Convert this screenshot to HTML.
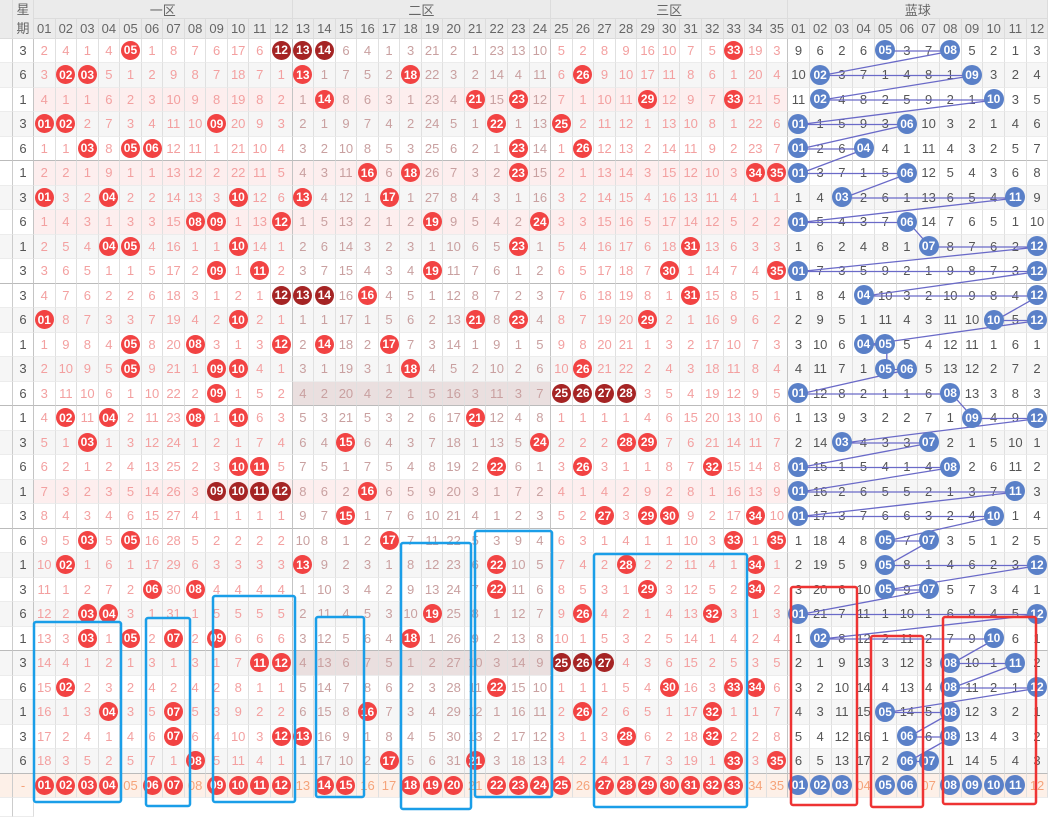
<!DOCTYPE html>
<html><head><meta charset="utf-8"><style>
html,body{margin:0;padding:0;width:1055px;height:817px;overflow:hidden;background:#fff}
.g{display:grid;position:absolute;left:0;top:0;width:1055px;height:817px;grid-template-columns:13px 21px repeat(35,21.56px) repeat(12,21.7px);grid-template-rows:19.4px 19.35px repeat(31,24.5px) 1fr;font:13px "Liberation Sans","Noto Sans CJK SC",sans-serif}
.g i{font-style:normal;display:flex;align-items:center;justify-content:center;border-right:1px solid #e0e0e0;border-bottom:1px solid #ececec;color:#f3a0a0;background:#fff;overflow:visible;min-width:0}
.hd{background:#ebebeb!important;color:#666!important;border-color:#dcdcdc!important}
.r{display:contents}
.r i:nth-child(2){color:#555}
.r i:nth-child(n+15):nth-child(-n+26){color:#c9a0a0}
.r i:nth-child(n+38){color:#555}
.r i:nth-child(1){border-right:1px solid #ccc}
.r i:nth-child(2),.r i:nth-child(14),.r i:nth-child(26),.r i:nth-child(37){border-right:1px solid #c4c4c4}
.a i{background:#f6f6f6}
.p i:nth-child(n+3):nth-child(-n+37){background:#fdeeee}
.h i:nth-child(n+15):nth-child(-n+26){background:#eadfdf}
.e i{border-bottom:1px solid #bbb}
.z i{background:#fdf0e8;color:#f5a37a!important}
.g b{width:19px;height:19px;border-radius:50%;background:#f24343;color:#fff;font-weight:bold;display:flex;align-items:center;justify-content:center;font-size:12px;position:relative;z-index:2;flex:none}
.g b.d{background:#a52424}
.g b.u{background:#5a80c8;width:20px;height:20px}
svg{position:absolute;left:0;top:0}
</style></head><body>
<div class="g">
<i class="hd" style="grid-row:span 2"></i><i class="hd" style="grid-row:span 2;line-height:19px;text-align:center">星<br>期</i><i class="hd" style="grid-column:span 12">一区</i><i class="hd" style="grid-column:span 12">二区</i><i class="hd" style="grid-column:span 11">三区</i><i class="hd" style="grid-column:span 12">蓝球</i>
<i class="hd">01</i><i class="hd">02</i><i class="hd">03</i><i class="hd">04</i><i class="hd">05</i><i class="hd">06</i><i class="hd">07</i><i class="hd">08</i><i class="hd">09</i><i class="hd">10</i><i class="hd">11</i><i class="hd">12</i><i class="hd">13</i><i class="hd">14</i><i class="hd">15</i><i class="hd">16</i><i class="hd">17</i><i class="hd">18</i><i class="hd">19</i><i class="hd">20</i><i class="hd">21</i><i class="hd">22</i><i class="hd">23</i><i class="hd">24</i><i class="hd">25</i><i class="hd">26</i><i class="hd">27</i><i class="hd">28</i><i class="hd">29</i><i class="hd">30</i><i class="hd">31</i><i class="hd">32</i><i class="hd">33</i><i class="hd">34</i><i class="hd">35</i><i class="hd">01</i><i class="hd">02</i><i class="hd">03</i><i class="hd">04</i><i class="hd">05</i><i class="hd">06</i><i class="hd">07</i><i class="hd">08</i><i class="hd">09</i><i class="hd">10</i><i class="hd">11</i><i class="hd">12</i>

<div class="r"><i></i><i>3</i><i>2</i><i>4</i><i>1</i><i>4</i><i><b>05</b></i><i>1</i><i>8</i><i>7</i><i>6</i><i>17</i><i>6</i><i><b class="d">12</b></i><i><b class="d">13</b></i><i><b class="d">14</b></i><i>6</i><i>4</i><i>1</i><i>3</i><i>21</i><i>2</i><i>1</i><i>23</i><i>13</i><i>10</i><i>5</i><i>2</i><i>8</i><i>9</i><i>16</i><i>10</i><i>7</i><i>5</i><i><b>33</b></i><i>19</i><i>3</i><i>9</i><i>6</i><i>2</i><i>6</i><i><b class="u">05</b></i><i>3</i><i>7</i><i><b class="u">08</b></i><i>5</i><i>2</i><i>1</i><i>3</i></div>
<div class="r a"><i></i><i>6</i><i>3</i><i><b>02</b></i><i><b>03</b></i><i>5</i><i>1</i><i>2</i><i>9</i><i>8</i><i>7</i><i>18</i><i>7</i><i>1</i><i><b>13</b></i><i>1</i><i>7</i><i>5</i><i>2</i><i><b>18</b></i><i>22</i><i>3</i><i>2</i><i>14</i><i>4</i><i>11</i><i>6</i><i><b>26</b></i><i>9</i><i>10</i><i>17</i><i>11</i><i>8</i><i>6</i><i>1</i><i>20</i><i>4</i><i>10</i><i><b class="u">02</b></i><i>3</i><i>7</i><i>1</i><i>4</i><i>8</i><i>1</i><i><b class="u">09</b></i><i>3</i><i>2</i><i>4</i></div>
<div class="r p"><i></i><i>1</i><i>4</i><i>1</i><i>1</i><i>6</i><i>2</i><i>3</i><i>10</i><i>9</i><i>8</i><i>19</i><i>8</i><i>2</i><i>1</i><i><b>14</b></i><i>8</i><i>6</i><i>3</i><i>1</i><i>23</i><i>4</i><i><b>21</b></i><i>15</i><i><b>23</b></i><i>12</i><i>7</i><i>1</i><i>10</i><i>11</i><i><b>29</b></i><i>12</i><i>9</i><i>7</i><i><b>33</b></i><i>21</i><i>5</i><i>11</i><i><b class="u">02</b></i><i>4</i><i>8</i><i>2</i><i>5</i><i>9</i><i>2</i><i>1</i><i><b class="u">10</b></i><i>3</i><i>5</i></div>
<div class="r a"><i></i><i>3</i><i><b>01</b></i><i><b>02</b></i><i>2</i><i>7</i><i>3</i><i>4</i><i>11</i><i>10</i><i><b>09</b></i><i>20</i><i>9</i><i>3</i><i>2</i><i>1</i><i>9</i><i>7</i><i>4</i><i>2</i><i>24</i><i>5</i><i>1</i><i><b>22</b></i><i>1</i><i>13</i><i><b>25</b></i><i>2</i><i>11</i><i>12</i><i>1</i><i>13</i><i>10</i><i>8</i><i>1</i><i>22</i><i>6</i><i><b class="u">01</b></i><i>1</i><i>5</i><i>9</i><i>3</i><i><b class="u">06</b></i><i>10</i><i>3</i><i>2</i><i>1</i><i>4</i><i>6</i></div>
<div class="r e"><i></i><i>6</i><i>1</i><i>1</i><i><b>03</b></i><i>8</i><i><b>05</b></i><i><b>06</b></i><i>12</i><i>11</i><i>1</i><i>21</i><i>10</i><i>4</i><i>3</i><i>2</i><i>10</i><i>8</i><i>5</i><i>3</i><i>25</i><i>6</i><i>2</i><i>1</i><i><b>23</b></i><i>14</i><i>1</i><i><b>26</b></i><i>12</i><i>13</i><i>2</i><i>14</i><i>11</i><i>9</i><i>2</i><i>23</i><i>7</i><i><b class="u">01</b></i><i>2</i><i>6</i><i><b class="u">04</b></i><i>4</i><i>1</i><i>11</i><i>4</i><i>3</i><i>2</i><i>5</i><i>7</i></div>

<div class="r p"><i></i><i>1</i><i>2</i><i>2</i><i>1</i><i>9</i><i>1</i><i>1</i><i>13</i><i>12</i><i>2</i><i>22</i><i>11</i><i>5</i><i>4</i><i>3</i><i>11</i><i><b>16</b></i><i>6</i><i><b>18</b></i><i>26</i><i>7</i><i>3</i><i>2</i><i><b>23</b></i><i>15</i><i>2</i><i>1</i><i>13</i><i>14</i><i>3</i><i>15</i><i>12</i><i>10</i><i>3</i><i><b>34</b></i><i><b>35</b></i><i><b class="u">01</b></i><i>3</i><i>7</i><i>1</i><i>5</i><i><b class="u">06</b></i><i>12</i><i>5</i><i>4</i><i>3</i><i>6</i><i>8</i></div>
<div class="r a"><i></i><i>3</i><i><b>01</b></i><i>3</i><i>2</i><i><b>04</b></i><i>2</i><i>2</i><i>14</i><i>13</i><i>3</i><i><b>10</b></i><i>12</i><i>6</i><i><b>13</b></i><i>4</i><i>12</i><i>1</i><i><b>17</b></i><i>1</i><i>27</i><i>8</i><i>4</i><i>3</i><i>1</i><i>16</i><i>3</i><i>2</i><i>14</i><i>15</i><i>4</i><i>16</i><i>13</i><i>11</i><i>4</i><i>1</i><i>1</i><i>1</i><i>4</i><i><b class="u">03</b></i><i>2</i><i>6</i><i>1</i><i>13</i><i>6</i><i>5</i><i>4</i><i><b class="u">11</b></i><i>9</i></div>
<div class="r p"><i></i><i>6</i><i>1</i><i>4</i><i>3</i><i>1</i><i>3</i><i>3</i><i>15</i><i><b>08</b></i><i><b>09</b></i><i>1</i><i>13</i><i><b>12</b></i><i>1</i><i>5</i><i>13</i><i>2</i><i>1</i><i>2</i><i><b>19</b></i><i>9</i><i>5</i><i>4</i><i>2</i><i><b>24</b></i><i>3</i><i>3</i><i>15</i><i>16</i><i>5</i><i>17</i><i>14</i><i>12</i><i>5</i><i>2</i><i>2</i><i><b class="u">01</b></i><i>5</i><i>4</i><i>3</i><i>7</i><i><b class="u">06</b></i><i>14</i><i>7</i><i>6</i><i>5</i><i>1</i><i>10</i></div>
<div class="r a"><i></i><i>1</i><i>2</i><i>5</i><i>4</i><i><b>04</b></i><i><b>05</b></i><i>4</i><i>16</i><i>1</i><i>1</i><i><b>10</b></i><i>14</i><i>1</i><i>2</i><i>6</i><i>14</i><i>3</i><i>2</i><i>3</i><i>1</i><i>10</i><i>6</i><i>5</i><i><b>23</b></i><i>1</i><i>5</i><i>4</i><i>16</i><i>17</i><i>6</i><i>18</i><i><b>31</b></i><i>13</i><i>6</i><i>3</i><i>3</i><i>1</i><i>6</i><i>2</i><i>4</i><i>8</i><i>1</i><i><b class="u">07</b></i><i>8</i><i>7</i><i>6</i><i>2</i><i><b class="u">12</b></i></div>
<div class="r e"><i></i><i>3</i><i>3</i><i>6</i><i>5</i><i>1</i><i>1</i><i>5</i><i>17</i><i>2</i><i><b>09</b></i><i>1</i><i><b>11</b></i><i>2</i><i>3</i><i>7</i><i>15</i><i>4</i><i>3</i><i>4</i><i><b>19</b></i><i>11</i><i>7</i><i>6</i><i>1</i><i>2</i><i>6</i><i>5</i><i>17</i><i>18</i><i>7</i><i><b>30</b></i><i>1</i><i>14</i><i>7</i><i>4</i><i><b>35</b></i><i><b class="u">01</b></i><i>7</i><i>3</i><i>5</i><i>9</i><i>2</i><i>1</i><i>9</i><i>8</i><i>7</i><i>3</i><i><b class="u">12</b></i></div>

<div class="r"><i></i><i>3</i><i>4</i><i>7</i><i>6</i><i>2</i><i>2</i><i>6</i><i>18</i><i>3</i><i>1</i><i>2</i><i>1</i><i><b class="d">12</b></i><i><b class="d">13</b></i><i><b class="d">14</b></i><i>16</i><i><b>16</b></i><i>4</i><i>5</i><i>1</i><i>12</i><i>8</i><i>7</i><i>2</i><i>3</i><i>7</i><i>6</i><i>18</i><i>19</i><i>8</i><i>1</i><i><b>31</b></i><i>15</i><i>8</i><i>5</i><i>1</i><i>1</i><i>8</i><i>4</i><i><b class="u">04</b></i><i>10</i><i>3</i><i>2</i><i>10</i><i>9</i><i>8</i><i>4</i><i><b class="u">12</b></i></div>
<div class="r a"><i></i><i>6</i><i><b>01</b></i><i>8</i><i>7</i><i>3</i><i>3</i><i>7</i><i>19</i><i>4</i><i>2</i><i><b>10</b></i><i>2</i><i>1</i><i>1</i><i>1</i><i>17</i><i>1</i><i>5</i><i>6</i><i>2</i><i>13</i><i><b>21</b></i><i>8</i><i><b>23</b></i><i>4</i><i>8</i><i>7</i><i>19</i><i>20</i><i><b>29</b></i><i>2</i><i>1</i><i>16</i><i>9</i><i>6</i><i>2</i><i>2</i><i>9</i><i>5</i><i>1</i><i>11</i><i>4</i><i>3</i><i>11</i><i>10</i><i><b class="u">10</b></i><i>5</i><i><b class="u">12</b></i></div>
<div class="r"><i></i><i>1</i><i>1</i><i>9</i><i>8</i><i>4</i><i><b>05</b></i><i>8</i><i>20</i><i><b>08</b></i><i>3</i><i>1</i><i>3</i><i><b>12</b></i><i>2</i><i><b>14</b></i><i>18</i><i>2</i><i><b>17</b></i><i>7</i><i>3</i><i>14</i><i>1</i><i>9</i><i>1</i><i>5</i><i>9</i><i>8</i><i>20</i><i>21</i><i>1</i><i>3</i><i>2</i><i>17</i><i>10</i><i>7</i><i>3</i><i>3</i><i>10</i><i>6</i><i><b class="u">04</b></i><i><b class="u">05</b></i><i>5</i><i>4</i><i>12</i><i>11</i><i>1</i><i>6</i><i>1</i></div>
<div class="r a"><i></i><i>3</i><i>2</i><i>10</i><i>9</i><i>5</i><i><b>05</b></i><i>9</i><i>21</i><i>1</i><i><b>09</b></i><i><b>10</b></i><i>4</i><i>1</i><i>3</i><i>1</i><i>19</i><i>3</i><i>1</i><i><b>18</b></i><i>4</i><i>5</i><i>2</i><i>10</i><i>2</i><i>6</i><i>10</i><i><b>26</b></i><i>21</i><i>22</i><i>2</i><i>4</i><i>3</i><i>18</i><i>11</i><i>8</i><i>4</i><i>4</i><i>11</i><i>7</i><i>1</i><i><b class="u">05</b></i><i><b class="u">06</b></i><i>5</i><i>13</i><i>12</i><i>2</i><i>7</i><i>2</i></div>
<div class="r e h"><i></i><i>6</i><i>3</i><i>11</i><i>10</i><i>6</i><i>1</i><i>10</i><i>22</i><i>2</i><i><b>09</b></i><i>1</i><i>5</i><i>2</i><i>4</i><i>2</i><i>20</i><i>4</i><i>2</i><i>1</i><i>5</i><i>16</i><i>3</i><i>11</i><i>3</i><i>7</i><i><b class="d">25</b></i><i><b class="d">26</b></i><i><b class="d">27</b></i><i><b class="d">28</b></i><i>3</i><i>5</i><i>4</i><i>19</i><i>12</i><i>9</i><i>5</i><i><b class="u">01</b></i><i>12</i><i>8</i><i>2</i><i>1</i><i>1</i><i>6</i><i><b class="u">08</b></i><i>13</i><i>3</i><i>8</i><i>3</i></div>

<div class="r"><i></i><i>1</i><i>4</i><i><b>02</b></i><i>11</i><i><b>04</b></i><i>2</i><i>11</i><i>23</i><i><b>08</b></i><i>1</i><i><b>10</b></i><i>6</i><i>3</i><i>5</i><i>3</i><i>21</i><i>5</i><i>3</i><i>2</i><i>6</i><i>17</i><i><b>21</b></i><i>12</i><i>4</i><i>8</i><i>1</i><i>1</i><i>1</i><i>1</i><i>4</i><i>6</i><i>15</i><i>20</i><i>13</i><i>10</i><i>6</i><i>1</i><i>13</i><i>9</i><i>3</i><i>2</i><i>2</i><i>7</i><i>1</i><i><b class="u">09</b></i><i>4</i><i>9</i><i><b class="u">12</b></i></div>
<div class="r a"><i></i><i>3</i><i>5</i><i>1</i><i><b>03</b></i><i>1</i><i>3</i><i>12</i><i>24</i><i>1</i><i>2</i><i>1</i><i>7</i><i>4</i><i>6</i><i>4</i><i><b>15</b></i><i>6</i><i>4</i><i>3</i><i>7</i><i>18</i><i>1</i><i>13</i><i>5</i><i><b>24</b></i><i>2</i><i>2</i><i>2</i><i><b>28</b></i><i><b>29</b></i><i>7</i><i>6</i><i>21</i><i>14</i><i>11</i><i>7</i><i>2</i><i>14</i><i><b class="u">03</b></i><i>4</i><i>3</i><i>3</i><i><b class="u">07</b></i><i>2</i><i>1</i><i>5</i><i>10</i><i>1</i></div>
<div class="r"><i></i><i>6</i><i>6</i><i>2</i><i>1</i><i>2</i><i>4</i><i>13</i><i>25</i><i>2</i><i>3</i><i><b>10</b></i><i><b>11</b></i><i>5</i><i>7</i><i>5</i><i>1</i><i>7</i><i>5</i><i>4</i><i>8</i><i>19</i><i>2</i><i><b>22</b></i><i>6</i><i>1</i><i>3</i><i><b>26</b></i><i>3</i><i>1</i><i>1</i><i>8</i><i>7</i><i><b>32</b></i><i>15</i><i>14</i><i>8</i><i><b class="u">01</b></i><i>15</i><i>1</i><i>5</i><i>4</i><i>1</i><i>4</i><i><b class="u">08</b></i><i>2</i><i>6</i><i>11</i><i>2</i></div>
<div class="r a p"><i></i><i>1</i><i>7</i><i>3</i><i>2</i><i>3</i><i>5</i><i>14</i><i>26</i><i>3</i><i><b class="d">09</b></i><i><b class="d">10</b></i><i><b class="d">11</b></i><i><b class="d">12</b></i><i>8</i><i>6</i><i>2</i><i><b>16</b></i><i>6</i><i>5</i><i>9</i><i>20</i><i>3</i><i>1</i><i>7</i><i>2</i><i>4</i><i>1</i><i>4</i><i>2</i><i>9</i><i>2</i><i>8</i><i>1</i><i>16</i><i>13</i><i>9</i><i><b class="u">01</b></i><i>16</i><i>2</i><i>6</i><i>5</i><i>5</i><i>2</i><i>1</i><i>3</i><i>7</i><i><b class="u">11</b></i><i>3</i></div>
<div class="r e"><i></i><i>3</i><i>8</i><i>4</i><i>3</i><i>4</i><i>6</i><i>15</i><i>27</i><i>4</i><i>1</i><i>1</i><i>1</i><i>1</i><i>9</i><i>7</i><i><b>15</b></i><i>1</i><i>7</i><i>6</i><i>10</i><i>21</i><i>4</i><i>1</i><i>2</i><i>3</i><i>5</i><i>2</i><i><b>27</b></i><i>3</i><i><b>29</b></i><i><b>30</b></i><i>9</i><i>2</i><i>17</i><i><b>34</b></i><i>10</i><i><b class="u">01</b></i><i>17</i><i>3</i><i>7</i><i>6</i><i>6</i><i>3</i><i>2</i><i>4</i><i><b class="u">10</b></i><i>1</i><i>4</i></div>

<div class="r"><i></i><i>6</i><i>9</i><i>5</i><i><b>03</b></i><i>5</i><i><b>05</b></i><i>16</i><i>28</i><i>5</i><i>2</i><i>2</i><i>2</i><i>2</i><i>10</i><i>8</i><i>1</i><i>2</i><i><b>17</b></i><i>7</i><i>11</i><i>22</i><i>5</i><i>3</i><i>9</i><i>4</i><i>6</i><i>3</i><i>1</i><i>4</i><i>1</i><i>1</i><i>10</i><i>3</i><i><b>33</b></i><i>1</i><i><b>35</b></i><i>1</i><i>18</i><i>4</i><i>8</i><i><b class="u">05</b></i><i>7</i><i><b class="u">07</b></i><i>3</i><i>5</i><i>1</i><i>2</i><i>5</i></div>
<div class="r a"><i></i><i>1</i><i>10</i><i><b>02</b></i><i>1</i><i>6</i><i>1</i><i>17</i><i>29</i><i>6</i><i>3</i><i>3</i><i>3</i><i>3</i><i><b>13</b></i><i>9</i><i>2</i><i>3</i><i>1</i><i>8</i><i>12</i><i>23</i><i>6</i><i><b>22</b></i><i>10</i><i>5</i><i>7</i><i>4</i><i>2</i><i><b>28</b></i><i>2</i><i>2</i><i>11</i><i>4</i><i>1</i><i><b>34</b></i><i>1</i><i>2</i><i>19</i><i>5</i><i>9</i><i><b class="u">05</b></i><i>8</i><i>1</i><i>4</i><i>6</i><i>2</i><i>3</i><i><b class="u">12</b></i></div>
<div class="r"><i></i><i>3</i><i>11</i><i>1</i><i>2</i><i>7</i><i>2</i><i><b>06</b></i><i>30</i><i><b>08</b></i><i>4</i><i>4</i><i>4</i><i>4</i><i>1</i><i>10</i><i>3</i><i>4</i><i>2</i><i>9</i><i>13</i><i>24</i><i>7</i><i><b>22</b></i><i>11</i><i>6</i><i>8</i><i>5</i><i>3</i><i>1</i><i><b>29</b></i><i>3</i><i>12</i><i>5</i><i>2</i><i><b>34</b></i><i>2</i><i>3</i><i>20</i><i>6</i><i>10</i><i><b class="u">05</b></i><i>9</i><i><b class="u">07</b></i><i>5</i><i>7</i><i>3</i><i>4</i><i>1</i></div>
<div class="r a"><i></i><i>6</i><i>12</i><i>2</i><i><b>03</b></i><i><b>04</b></i><i>3</i><i>1</i><i>31</i><i>1</i><i>5</i><i>5</i><i>5</i><i>5</i><i>2</i><i>11</i><i>4</i><i>5</i><i>3</i><i>10</i><i><b>19</b></i><i>25</i><i>8</i><i>1</i><i>12</i><i>7</i><i>9</i><i><b>26</b></i><i>4</i><i>2</i><i>1</i><i>4</i><i>13</i><i><b>32</b></i><i>3</i><i>1</i><i>3</i><i><b class="u">01</b></i><i>21</i><i>7</i><i>11</i><i>1</i><i>10</i><i>1</i><i>6</i><i>8</i><i>4</i><i>5</i><i><b class="u">12</b></i></div>
<div class="r e"><i></i><i>1</i><i>13</i><i>3</i><i><b>03</b></i><i>1</i><i><b>05</b></i><i>2</i><i><b>07</b></i><i>2</i><i><b>09</b></i><i>6</i><i>6</i><i>6</i><i>3</i><i>12</i><i>5</i><i>6</i><i>4</i><i><b>18</b></i><i>1</i><i>26</i><i>9</i><i>2</i><i>13</i><i>8</i><i>10</i><i>1</i><i>5</i><i>3</i><i>2</i><i>5</i><i>14</i><i>1</i><i>4</i><i>2</i><i>4</i><i>1</i><i><b class="u">02</b></i><i>8</i><i>12</i><i>2</i><i>11</i><i>2</i><i>7</i><i>9</i><i><b class="u">10</b></i><i>6</i><i>1</i></div>

<div class="r a h"><i></i><i>3</i><i>14</i><i>4</i><i>1</i><i>2</i><i>1</i><i>3</i><i>1</i><i>3</i><i>1</i><i>7</i><i><b>11</b></i><i><b>12</b></i><i>4</i><i>13</i><i>6</i><i>7</i><i>5</i><i>1</i><i>2</i><i>27</i><i>10</i><i>3</i><i>14</i><i>9</i><i><b class="d">25</b></i><i><b class="d">26</b></i><i><b class="d">27</b></i><i>4</i><i>3</i><i>6</i><i>15</i><i>2</i><i>5</i><i>3</i><i>5</i><i>2</i><i>1</i><i>9</i><i>13</i><i>3</i><i>12</i><i>3</i><i><b class="u">08</b></i><i>10</i><i>1</i><i><b class="u">11</b></i><i>2</i></div>
<div class="r"><i></i><i>6</i><i>15</i><i><b>02</b></i><i>2</i><i>3</i><i>2</i><i>4</i><i>2</i><i>4</i><i>2</i><i>8</i><i>1</i><i>1</i><i>5</i><i>14</i><i>7</i><i>8</i><i>6</i><i>2</i><i>3</i><i>28</i><i>11</i><i><b>22</b></i><i>15</i><i>10</i><i>1</i><i>1</i><i>1</i><i>5</i><i>4</i><i><b>30</b></i><i>16</i><i>3</i><i><b>33</b></i><i><b>34</b></i><i>6</i><i>3</i><i>2</i><i>10</i><i>14</i><i>4</i><i>13</i><i>4</i><i><b class="u">08</b></i><i>11</i><i>2</i><i>1</i><i><b class="u">12</b></i></div>
<div class="r a"><i></i><i>1</i><i>16</i><i>1</i><i>3</i><i><b>04</b></i><i>3</i><i>5</i><i><b>07</b></i><i>5</i><i>3</i><i>9</i><i>2</i><i>2</i><i>6</i><i>15</i><i>8</i><i><b>16</b></i><i>7</i><i>3</i><i>4</i><i>29</i><i>12</i><i>1</i><i>16</i><i>11</i><i>2</i><i><b>26</b></i><i>2</i><i>6</i><i>5</i><i>1</i><i>17</i><i><b>32</b></i><i>1</i><i>1</i><i>7</i><i>4</i><i>3</i><i>11</i><i>15</i><i><b class="u">05</b></i><i>14</i><i>5</i><i><b class="u">08</b></i><i>12</i><i>3</i><i>2</i><i>1</i></div>
<div class="r"><i></i><i>3</i><i>17</i><i>2</i><i>4</i><i>1</i><i>4</i><i>6</i><i><b>07</b></i><i>6</i><i>4</i><i>10</i><i>3</i><i><b>12</b></i><i><b>13</b></i><i>16</i><i>9</i><i>1</i><i>8</i><i>4</i><i>5</i><i>30</i><i>13</i><i>2</i><i>17</i><i>12</i><i>3</i><i>1</i><i>3</i><i><b>28</b></i><i>6</i><i>2</i><i>18</i><i><b>32</b></i><i>2</i><i>2</i><i>8</i><i>5</i><i>4</i><i>12</i><i>16</i><i>1</i><i><b class="u">06</b></i><i>6</i><i><b class="u">08</b></i><i>13</i><i>4</i><i>3</i><i>2</i></div>
<div class="r a e"><i></i><i>6</i><i>18</i><i>3</i><i>5</i><i>2</i><i>5</i><i>7</i><i>1</i><i><b>08</b></i><i>5</i><i>11</i><i>4</i><i>1</i><i>1</i><i>17</i><i>10</i><i>2</i><i><b>17</b></i><i>5</i><i>6</i><i>31</i><i><b>21</b></i><i>3</i><i>18</i><i>13</i><i>4</i><i>2</i><i>4</i><i>1</i><i>7</i><i>3</i><i>19</i><i>1</i><i><b>33</b></i><i>3</i><i><b>35</b></i><i>6</i><i>5</i><i>13</i><i>17</i><i>2</i><i><b class="u">06</b></i><i><b class="u">07</b></i><i>1</i><i>14</i><i>5</i><i>4</i><i>3</i></div>

<div class="r z"><i></i><i>-</i><i><b>01</b></i><i><b>02</b></i><i><b>03</b></i><i><b>04</b></i><i>05</i><i><b>06</b></i><i><b>07</b></i><i>08</i><i><b>09</b></i><i><b>10</b></i><i><b>11</b></i><i><b>12</b></i><i>13</i><i><b>14</b></i><i><b>15</b></i><i>16</i><i>17</i><i><b>18</b></i><i><b>19</b></i><i><b>20</b></i><i>21</i><i><b>22</b></i><i><b>23</b></i><i><b>24</b></i><i><b>25</b></i><i>26</i><i><b>27</b></i><i><b>28</b></i><i><b>29</b></i><i><b>30</b></i><i><b>31</b></i><i><b>32</b></i><i><b>33</b></i><i>34</i><i>35</i><i><b class="u">01</b></i><i><b class="u">02</b></i><i><b class="u">03</b></i><i>04</i><i><b class="u">05</b></i><i><b class="u">06</b></i><i>07</i><i><b class="u">08</b></i><i><b class="u">09</b></i><i><b class="u">10</b></i><i><b class="u">11</b></i><i>12</i></div>
<i style="border-right:1px solid #ccc"></i><i style="border-right:1px solid #ddd"></i><i style="grid-column:span 47;border:none"></i>
</div>

<svg width="1055" height="817" style="z-index:1">
<polyline fill="none" stroke="#6a6ac8" stroke-width="1.3" points="886.8,51 951.9,51 821.7,75.5 973.6,75.5 821.7,100 995.3,100 800,124.5 908.5,124.5 800,149 865.1,149 800,173.5 908.5,173.5 843.4,198 1017,198 800,222.5 908.5,222.5 930.2,247 1038.7,247 800,271.5 1038.7,271.5 865.1,296 1038.7,296 995.3,320.5 1038.7,320.5 865.1,345 886.8,345 886.8,369.5 908.5,369.5 800,394 951.9,394 973.6,418.5 1038.7,418.5 843.4,443 930.2,443 800,467.5 951.9,467.5 800,492 1017,492 800,516.5 995.3,516.5 886.8,541 930.2,541 886.8,565.5 1038.7,565.5 886.8,590 930.2,590 800,614.5 1038.7,614.5 821.7,639 995.3,639 951.9,663.5 1017,663.5 951.9,688 1038.7,688 886.8,712.5 951.9,712.5 908.5,737 951.9,737 908.5,761.5 930.2,761.5"/>
</svg>
<svg width="1055" height="817" style="z-index:3">
<g fill="none" stroke="#1a9ee8" stroke-width="2.5">
<rect x="34" y="622" width="87" height="180" rx="2"/>
<rect x="146" y="618" width="44" height="188" rx="2"/>
<rect x="213" y="596" width="82" height="206" rx="2"/>
<rect x="316" y="617" width="48" height="180" rx="2"/>
<rect x="401" y="543" width="70" height="266" rx="2"/>
<rect x="475" y="531" width="77" height="266" rx="2"/>
<rect x="594" y="554" width="153" height="253" rx="2"/>
</g>
<g fill="none" stroke="#ee3333" stroke-width="2.5">
<rect x="791" y="587" width="66" height="218" rx="2"/>
<rect x="871" y="636" width="52" height="171" rx="2"/>
<rect x="943" y="617" width="93" height="187" rx="2"/>
</g>
</svg>
</body></html>
